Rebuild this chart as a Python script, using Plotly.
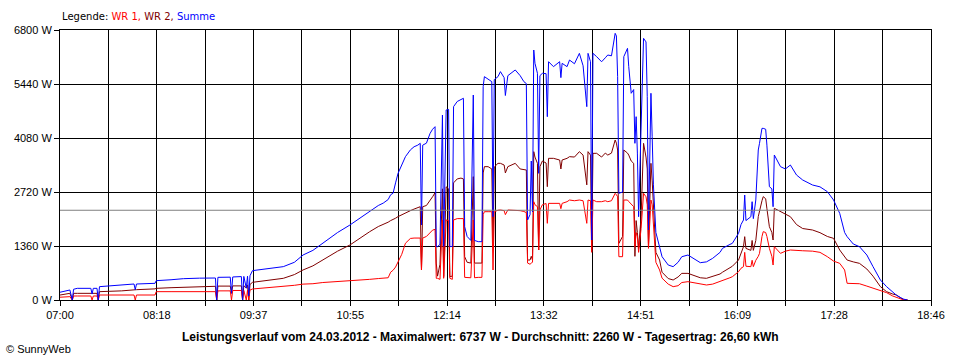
import plotly.graph_objects as go

# ---- data (time of day, watts) ----
TIME = [
    "07:00", "07:08", "07:10", "07:11", "07:14", "07:25", "07:26", "07:27", "07:30", "07:31",
    "07:32", "07:50", "08:00", "08:01", "08:02", "08:17", "08:18", "08:30", "08:40", "08:53",
    "09:06", "09:07", "09:08", "09:18", "09:19", "09:20", "09:27", "09:28", "09:29", "09:31",
    "09:32", "09:33", "09:34", "09:36", "09:45", "10:01", "10:10", "10:17", "10:25", "10:33",
    "10:45", "10:55", "11:05", "11:11", "11:18", "11:22", "11:26", "11:28", "11:30", "11:32",
    "11:34", "11:37", "11:40", "11:44", "11:47", "11:50", "11:52", "11:53", "11:54", "11:57",
    "12:00", "12:02", "12:04", "12:05", "12:06", "12:08", "12:10", "12:11", "12:13", "12:15",
    "12:16", "12:18", "12:19", "12:22", "12:25", "12:27", "12:28", "12:30", "12:33", "12:35",
    "12:36", "12:39", "12:42", "12:43", "12:44", "12:47", "12:50", "12:51", "12:52", "12:55",
    "12:57", "13:00", "13:01", "13:03", "13:09", "13:13", "13:16", "13:18", "13:19", "13:21",
    "13:22", "13:23", "13:24", "13:25", "13:27", "13:28", "13:29", "13:31", "13:34", "13:35",
    "13:36", "13:40", "13:45", "13:46", "13:47", "13:51", "13:53", "13:57", "14:01", "14:04",
    "14:07", "14:08", "14:10", "14:11", "14:12", "14:15", "14:19", "14:22", "14:24", "14:27",
    "14:30", "14:31", "14:32", "14:33", "14:36", "14:37", "14:40", "14:41", "14:43", "14:45",
    "14:46", "14:47", "14:48", "14:49", "14:51", "14:53", "14:55", "14:56", "14:57", "14:59",
    "15:00", "15:01", "15:03", "15:06", "15:08", "15:13", "15:17", "15:21", "15:24", "15:29",
    "15:35", "15:39", "15:44", "15:49", "15:55", "15:57", "16:03", "16:05", "16:10", "16:12",
    "16:14", "16:15", "16:16", "16:20", "16:21", "16:22", "16:24", "16:26", "16:27", "16:29",
    "16:30", "16:32", "16:33", "16:35", "16:37", "16:38", "16:39", "16:44", "16:48", "16:52",
    "16:57", "17:02", "17:10", "17:16", "17:22", "17:27", "17:32", "17:36", "17:38", "17:43",
    "17:48", "17:54", "17:59", "18:05", "18:10", "18:15", "18:18", "18:21", "18:24", "18:27",
]

WR1 = [
    70, 84, 0, 100, 101, 101, 0, 101, 101, 0,
    126, 126, 126, 0, 126, 126, 210, 210, 210, 210,
    210, 0, 230, 230, 0, 240, 240, 0, 240, 0,
    250, 0, 250, 277, 300, 336, 370, 400, 410, 440,
    460, 487, 510, 520, 540, 546, 560, 700, 750, 830,
    950, 1150, 1430, 1550, 1560, 1560, 1560, 756, 1560, 1600,
    1700, 1760, 1780, 546, 546, 520, 2015, 546, 2015, 2000,
    546, 520, 2015, 2050, 2050, 2050, 570, 560, 560, 2015,
    560, 570, 570, 2150, 2224, 2224, 2224, 756, 2224, 2260,
    2267, 2250, 2150, 2267, 2267, 2250, 2230, 2200, 930, 900,
    930, 950, 2476, 2400, 2350, 1259, 2267, 2400, 2430, 1931,
    2434, 2434, 2434, 2300, 2434, 2476, 2518, 2500, 2518, 2500,
    1931, 2518, 2500, 1200, 2518, 2476, 2476, 2500, 2476, 2500,
    2686, 2650, 2600, 1091, 1091, 2518, 2518, 2480, 2400, 2350,
    1343, 1700, 1600, 1200, 1800, 2686, 2600, 2400, 1300, 2518,
    2400, 1800, 950, 756, 550, 400, 336, 360, 440, 462,
    430, 400, 378, 400, 462, 480, 560, 587, 713, 800,
    840, 1200, 850, 840, 1000, 840, 1000, 1100, 1175, 1600,
    1721, 1700, 1600, 1300, 1100, 881, 1343, 1175, 1230, 1259,
    1240, 1240, 1230, 1200, 1091, 980, 923, 756, 420, 420,
    410, 350, 294, 230, 185, 100, 60, 20, 0, 0,
]

WR2 = [
    125, 168, 0, 168, 168, 168, 168, 168, 168, 0,
    210, 230, 260, 250, 260, 280, 294, 310, 320, 336,
    345, 0, 350, 350, 170, 355, 355, 0, 360, 300,
    380, 0, 390, 445, 480, 546, 640, 756, 860, 1007,
    1230, 1385, 1600, 1720, 1850, 1900, 1960, 2000, 2020, 2060,
    2100, 2150, 2200, 2250, 2290, 2320, 2350, 756, 2350, 2380,
    2500, 2600, 2700, 930, 600, 900, 2800, 590, 2850, 2800,
    590, 600, 2950, 3050, 3070, 3050, 1091, 950, 930, 3106,
    930, 930, 930, 3200, 3358, 3358, 3300, 1343, 3350, 3442,
    3442, 3400, 3200, 3358, 3442, 3300, 3274, 3274, 1007, 1007,
    1100, 1007, 3736, 3600, 3442, 1259, 3358, 3500, 3450, 2854,
    3568, 3568, 3526, 3300, 3526, 3568, 3610, 3600, 3736, 3650,
    2900, 3736, 3650, 1250, 3694, 3694, 3600, 3700, 3650, 3700,
    4030, 3950, 3778, 1427, 1600, 3778, 3700, 3650, 3500, 3442,
    1100, 2000, 1700, 1300, 2100, 3946, 3600, 3300, 1343, 3442,
    3000, 2300, 1200, 1007, 700, 540, 504, 580, 671, 671,
    600, 560, 546, 600, 655, 700, 797, 850, 1007, 1200,
    1343, 1595, 1300, 1250, 1500, 1250, 1500, 2100, 2267, 2500,
    2603, 2550, 2300, 1847, 1700, 1511, 2309, 2225, 2150, 2098,
    1900, 1800, 1763, 1696, 1600, 1553, 1259, 1100, 1007, 960,
    923, 780, 600, 336, 210, 150, 126, 60, 0, 0,
]

SUMME = [
    195, 252, 0, 270, 294, 294, 150, 294, 294, 0,
    336, 370, 403, 260, 403, 420, 487, 510, 537, 550,
    554, 0, 571, 575, 170, 580, 590, 0, 595, 300,
    600, 100, 610, 739, 780, 840, 950, 1133, 1250, 1427,
    1700, 1889, 2100, 2224, 2380, 2440, 2530, 2650, 2690, 2950,
    3190, 3400, 3610, 3780, 3860, 3900, 3946, 1889, 3900, 3950,
    4198, 4300, 4365, 1343, 1343, 1400, 4659, 1350, 4785, 4800,
    1343, 1350, 4869, 5000, 5037, 5080, 1847, 1600, 1500, 5163,
    1500, 1469, 1469, 5373, 5625, 5550, 5499, 2098, 5550, 5625,
    5751, 5600, 5150, 5650, 5793, 5650, 5499, 5450, 2015, 2150,
    3500, 2216, 6296, 5961, 5709, 3190, 5650, 5709, 5700, 4617,
    6002, 5877, 6002, 5600, 5960, 5877, 6044, 5950, 6212, 5900,
    4869, 6212, 6000, 1511, 6212, 6128, 6000, 6100, 6170, 6150,
    6716, 6650, 5625, 2687, 2720, 6128, 6338, 5877, 5206, 5300,
    3946, 4617, 3700, 2098, 4400, 6590, 6500, 5120, 1763, 5206,
    4113, 2900, 1700, 1343, 1091, 881, 840, 950, 1090, 1133,
    1007, 940, 960, 1049, 1200, 1301, 1400, 1427, 1679, 1900,
    2015, 2644, 2000, 2098, 2476, 2050, 2519, 3778, 3946, 4323,
    4323, 4300, 3900, 2854, 2800, 2350, 3652, 3358, 3300, 3400,
    3148, 3022, 2896, 2850, 2728, 2519, 2183, 1700, 1595, 1410,
    1343, 1133, 840, 504, 336, 185, 120, 67, 20, 0,
]

Y_TICKS = [0, 1360, 2720, 4080, 5440, 6800]
X_LABELS = ["07:00", "08:18", "09:37", "10:55", "12:14", "13:32", "14:51", "16:09", "17:28", "18:46"]
AVERAGE = 2260
TITLE = ("Leistungsverlauf vom 24.03.2012 - Maximalwert: 6737 W - "
         "Durchschnitt: 2260 W - Tagesertrag: 26,60 kWh")


def to_min(s):
    h, m = s.split(":")
    return int(h) * 60 + int(m) - 7 * 60


x = [to_min(t) for t in TIME]
span = to_min(X_LABELS[-1])
n_int = (len(X_LABELS) - 1) * 2
xt = [span * k / n_int for k in range(n_int + 1)]
xtext = [X_LABELS[k // 2] if k % 2 == 0 else "" for k in range(n_int + 1)]

fig = go.Figure()
fig.add_trace(go.Scatter(x=x, y=WR2, mode="lines", name="WR 2",
                         line=dict(color="#800000", width=1)))
fig.add_trace(go.Scatter(x=x, y=WR1, mode="lines", name="WR 1",
                         line=dict(color="#FF0000", width=1)))
fig.add_trace(go.Scatter(x=x, y=SUMME, mode="lines", name="Summe",
                         line=dict(color="#0000FF", width=1)))

fig.add_shape(type="line", xref="x", yref="y", x0=0, x1=span, y0=AVERAGE, y1=AVERAGE,
              line=dict(color="#808080", width=1), layer="above")

L, R, T, B = 60, 29, 30, 60
W, H = 960, 360
pw, ph = W - L - R, H - T - B


def px(xp):
    return (xp - L) / pw


def py(yp):
    return (H - B - yp) / ph


axis_common = dict(showgrid=True, gridcolor="black", gridwidth=1, ticks="outside",
                   ticklen=5, tickcolor="black", tickwidth=1, showline=True,
                   linecolor="black", linewidth=1, mirror=True, zeroline=False,
                   tickfont=dict(family="Liberation Sans, Arial, sans-serif", size=11, color="black"))

fig.update_xaxes(range=[0, span], tickmode="array", tickvals=xt, ticktext=xtext, **axis_common)
fig.update_yaxes(range=[0, Y_TICKS[-1]], tickmode="array", tickvals=Y_TICKS,
                 ticktext=[f"{v} W" for v in Y_TICKS], **axis_common)

fig.update_layout(
    width=W, height=H,
    margin=dict(l=L, r=R, t=T, b=B),
    paper_bgcolor="white", plot_bgcolor="white",
    showlegend=False,
    font=dict(family="Liberation Sans, Arial, sans-serif", size=11, color="black"),
    annotations=[
        dict(xref="paper", yref="paper", x=px(60), y=py(16), xanchor="left", yanchor="middle",
             showarrow=False,
             text="Legende: <span style='color:#FF0000'>WR 1,</span> "
                  "<span style='color:#800000'>WR 2,</span> <span style='color:#0000FF'>Summe</span>",
             font=dict(family="DejaVu Sans, sans-serif", size=10)),
        dict(xref="paper", yref="paper", x=px(480), y=py(337), xanchor="center", yanchor="middle",
             showarrow=False, text="<b>" + TITLE + "</b>", font=dict(size=12)),
        dict(xref="paper", yref="paper", x=px(4), y=py(349), xanchor="left", yanchor="middle",
             showarrow=False, text="© SunnyWeb", font=dict(size=11)),
    ],
)

fig.write_html("out.html",
               config={"displayModeBar": False},
               post_script="document.body.style.margin='0';document.body.style.overflow='hidden';")
